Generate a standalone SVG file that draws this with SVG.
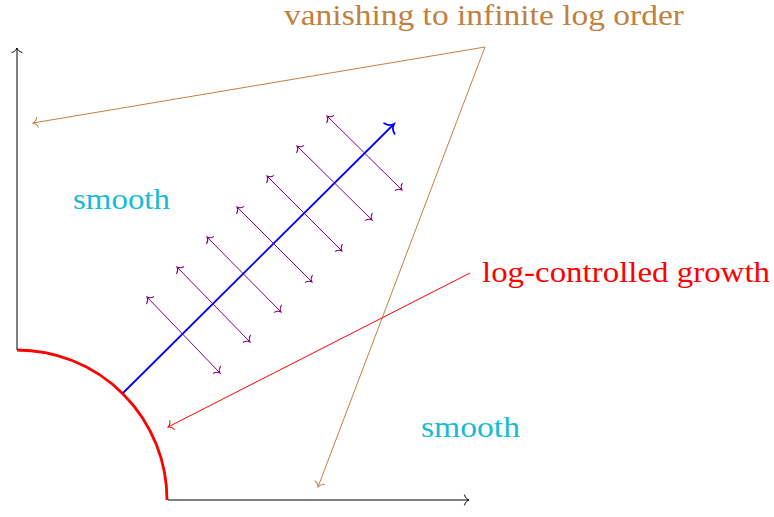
<svg xmlns="http://www.w3.org/2000/svg" width="774" height="517" viewBox="0 0 774 517">
<style>
.t{font-family:"Liberation Serif","DejaVu Serif",serif;font-size:29px}
.thin{fill:none;stroke-width:1}
</style>
<defs>
<marker id="ak" markerUnits="userSpaceOnUse" markerWidth="14" markerHeight="14" viewBox="-7 -7 14 14" refX="0" refY="0" orient="auto-start-reverse"><path d="M -4.5 -5 C -3.8 -2 -1.2 -0.4 0 0 C -1.2 0.4 -3.8 2 -4.5 5" fill="none" stroke="#000" stroke-width="1" stroke-linecap="round"/></marker>
<marker id="ap" markerUnits="userSpaceOnUse" markerWidth="14" markerHeight="14" viewBox="-7 -7 14 14" refX="0" refY="0" orient="auto-start-reverse"><path d="M -4.5 -5 C -3.8 -2 -1.2 -0.4 0 0 C -1.2 0.4 -3.8 2 -4.5 5" fill="none" stroke="#800080" stroke-width="1" stroke-linecap="round"/></marker>
<marker id="ab" markerUnits="userSpaceOnUse" markerWidth="14" markerHeight="14" viewBox="-7 -7 14 14" refX="0" refY="0" orient="auto-start-reverse"><path d="M -4.5 -5 C -3.8 -2 -1.2 -0.4 0 0 C -1.2 0.4 -3.8 2 -4.5 5" fill="none" stroke="#bf8040" stroke-width="1" stroke-linecap="round"/></marker>
<marker id="ar" markerUnits="userSpaceOnUse" markerWidth="14" markerHeight="14" viewBox="-7 -7 14 14" refX="0" refY="0" orient="auto-start-reverse"><path d="M -4.5 -5 C -3.8 -2 -1.2 -0.4 0 0 C -1.2 0.4 -3.8 2 -4.5 5" fill="none" stroke="#ff0000" stroke-width="1" stroke-linecap="round"/></marker>
<marker id="abl" markerUnits="userSpaceOnUse" markerWidth="20" markerHeight="20" viewBox="-10 -10 20 20" refX="0" refY="0" orient="auto"><path d="M -6.5 -7.5 C -5.5 -3 -1.8 -0.6 0 0 C -1.8 0.6 -5.5 3 -6.5 7.5" fill="none" stroke="#0000ff" stroke-width="1.8" stroke-linecap="round"/></marker>
</defs>
<g id="axes">
<line x1="17" y1="350" x2="17" y2="48" class="thin" stroke="#000" marker-end="url(#ak)"/>
<line x1="168" y1="500" x2="469" y2="500" class="thin" stroke="#000" marker-end="url(#ak)"/>
</g>
<g id="boundary">
<path d="M 17 350 A 150 150 0 0 1 167 500" fill="none" stroke="#ff0000" stroke-width="2.8"/>
</g>
<g id="connectors">
<line x1="123" y1="393" x2="394" y2="124" fill="none" stroke="#0000ff" stroke-width="1.8" marker-end="url(#abl)"/>
<g stroke="#800080" class="thin" marker-start="url(#ap)" marker-end="url(#ap)">
<line x1="147" y1="297" x2="220" y2="373"/>
<line x1="177" y1="267" x2="250" y2="342"/>
<line x1="207" y1="237" x2="281" y2="312"/>
<line x1="237" y1="207" x2="312" y2="282"/>
<line x1="267" y1="176" x2="342" y2="251"/>
<line x1="297" y1="146" x2="372" y2="220"/>
<line x1="327" y1="116" x2="402" y2="190"/>
</g>
<line x1="485" y1="47" x2="33" y2="123" class="thin" stroke="#bf8040" marker-end="url(#ab)"/>
<line x1="485" y1="47" x2="318" y2="487" class="thin" stroke="#bf8040" marker-end="url(#ab)"/>
<line x1="470" y1="273" x2="168" y2="427" class="thin" stroke="#ff0000" marker-end="url(#ar)"/>
</g>
<g id="labels">
<text class="t" x="284" y="25" fill="#bf8040" textLength="400" lengthAdjust="spacingAndGlyphs">vanishing to infinite log order</text>
<text class="t" x="73" y="209" fill="#17bcd4" textLength="97" lengthAdjust="spacingAndGlyphs">smooth</text>
<text class="t" x="482" y="282" fill="#ff0000" textLength="288" lengthAdjust="spacingAndGlyphs">log-controlled growth</text>
<text class="t" x="421" y="437" fill="#17bcd4" textLength="99" lengthAdjust="spacingAndGlyphs">smooth</text>
</g>
</svg>
